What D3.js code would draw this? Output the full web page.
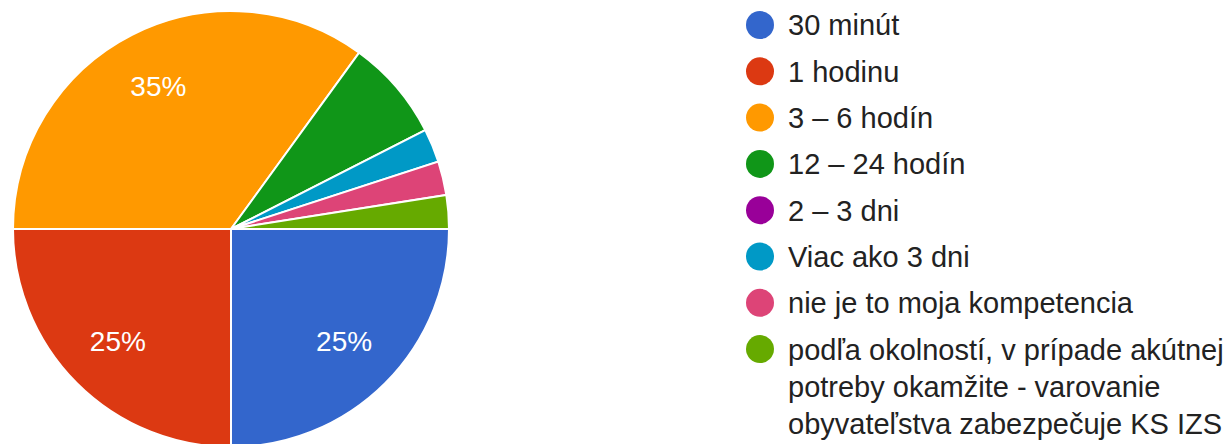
<!DOCTYPE html>
<html>
<head>
<meta charset="utf-8">
<script src="https://cdn.jsdelivr.net/npm/d3@7"></script>
<style>
  body { margin: 0; background: #fff; }
  svg { display: block; font-family: "Liberation Sans", Arial, sans-serif; }
</style>
</head>
<body>
<svg id="chart" width="1230" height="444"></svg>
<script>
(function (d3) {
    'use strict';

    var categories = ['30 minút', '1 hodinu', '3 – 6 hodín', '12 – 24 hodín', '2 – 3 dni',
        'Viac ako 3 dni', 'nie je to moja kompetencia',
        'podľa okolností, v prípade akútnej potreby okamžite - varovanie obyvateľstva zabezpečuje KS IZS'];
    var counts = [10, 10, 14, 3, 0, 1, 1, 1];
    var colors = ['#3366cc', '#dc3912', '#ff9900', '#109618', '#990099', '#0099c6', '#dd4477', '#66aa00'];

    var cx = 231,
    cy = 229,
    radius = 218;

    var svg = d3.select('#chart');
    var total = d3.sum(counts);

    var pie = d3.pie()
    .sort(null)
    .value(function (d) { return d.value; })
    .startAngle(Math.PI / 2)
    .endAngle(Math.PI / 2 + 2 * Math.PI);

    var data = categories.map(function (c, i) {
        return { name: c, value: counts[i], color: colors[i] };
    });

    var arc = d3.arc().innerRadius(0).outerRadius(radius);
    var labelArc = d3.arc().innerRadius(160).outerRadius(160);

    var g = svg.append('g').attr('transform', 'translate(' + cx + ',' + cy + ')');

    var slices = pie(data).filter(function (d) { return d.data.value > 0; });

    g.selectAll('path.slice')
    .data(slices)
    .enter()
    .append('path')
    .attr('class', 'slice')
    .attr('d', arc)
    .style('fill', function (d) { return d.data.color; })
    .style('stroke', '#fff')
    .style('stroke-width', 2);

    // only slices big enough get a percent label
    g.selectAll('text.pct')
    .data(slices.filter(function (d) { return d.data.value / total >= 0.1; }))
    .enter()
    .append('text')
    .attr('class', 'pct')
    .attr('transform', function (d) { return 'translate(' + labelArc.centroid(d) + ')'; })
    .attr('text-anchor', 'middle')
    .attr('dy', '0.33em')
    .style('fill', '#fff')
    .style('font-size', '28px')
    .text(function (d) { return Math.round(d.data.value / total * 100) + '%'; });

    // legend
    var legendX = 760,
    legendY = 25,
    rowGap = 9.3,
    lineH = 37,
    maxW = 442;

    var y = legendY;
    data.forEach(function (d) {
        var row = svg.append('g').attr('transform', 'translate(' + legendX + ',' + y + ')');
        row.append('circle')
        .attr('r', 14)
        .style('fill', d.color);

        var text = row.append('text')
        .style('fill', '#222')
        .style('font-size', '29px');

        var words = d.name.split(' '),
        line = [],
        n = 0,
        tspan = text.append('tspan').attr('x', 28).attr('y', 0).attr('dy', '0.36em');
        words.forEach(function (w) {
            line.push(w);
            tspan.text(line.join(' '));
            if (tspan.node().getComputedTextLength() > maxW && line.length > 1) {
                line.pop();
                tspan.text(line.join(' '));
                line = [w];
                n++;
                tspan = text.append('tspan').attr('x', 28).attr('y', n * lineH).attr('dy', '0.36em').text(w);
            }
        });
        y += (n + 1) * lineH + rowGap;
    });
})(d3);
</script>
</body>
</html>
